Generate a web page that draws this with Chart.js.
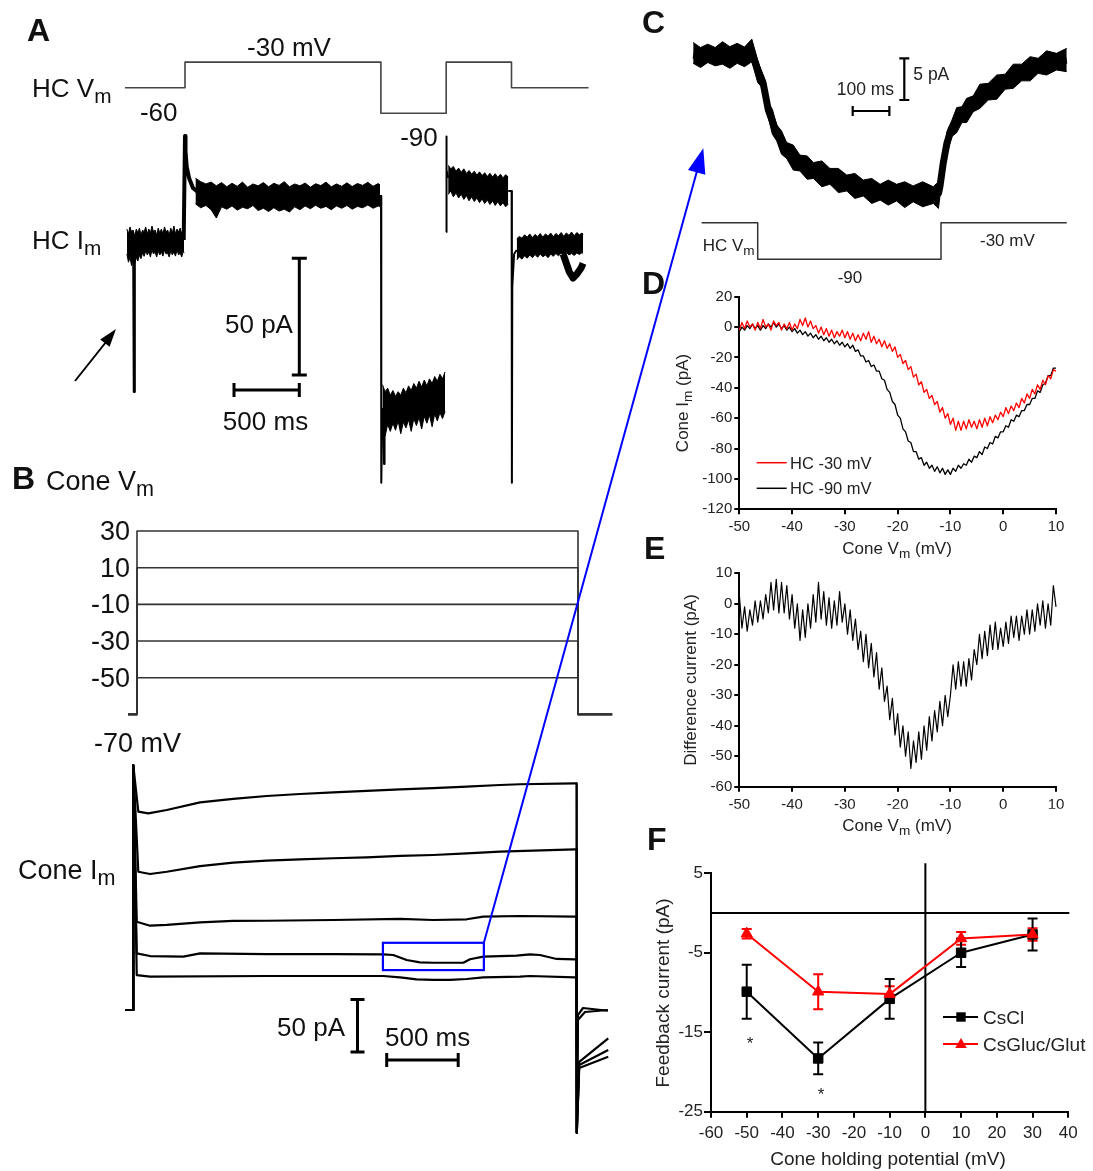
<!DOCTYPE html>
<html><head><meta charset="utf-8"><title>Horizontal cell feedback</title>
<script src="https://cdn.jsdelivr.net/npm/chart.js@4.4.1/dist/chart.umd.min.js"></script>
<style>
html,body{margin:0;padding:0;background:#fff}
body{position:relative;width:1093px;height:1171px;overflow:hidden;font-family:"Liberation Sans",Arial,Helvetica,sans-serif;color:#111}
canvas{position:absolute}
.t{position:absolute;white-space:nowrap;line-height:1;z-index:21}
.t sub{font-size:0.8em;vertical-align:baseline;position:relative;top:0.3em;line-height:0}
#ov{position:absolute;left:0;top:0;width:1093px;height:1171px;pointer-events:none;z-index:20}
</style></head><body>
<svg id="ov" xmlns="http://www.w3.org/2000/svg" width="1093" height="1171"></svg>
<script>
// ---------------- DATA ----------------
// Panel A : HC voltage protocol (ms, mV)
const hcVmT = [40, 500, 500, 2000, 2000, 2500, 2500, 3000, 3000, 3590];
const hcVmV = [-60, -60, -30, -30, -90, -90, -30, -30, -60, -60];
// Panel A : HC current, noisy segments as upper / lower envelopes (ms, pA relative to holding)
const hcHoldT = [55, 67, 79, 91, 103, 115, 127, 139, 151, 163, 175, 187, 199, 211, 223, 235, 247, 259, 271, 283, 295, 307, 319, 331, 343, 355, 367, 379, 391, 403, 415, 427, 439, 451, 463, 475, 487, 493];
const hcHoldHi = [4.7, 2.6, 5.6, 3.4, 4.3, 1.7, 4.7, 3.0, 5.1, 2.1, 4.3, 3.4, 5.6, 2.6, 4.7, 3.0, 6.0, 3.4, 4.3, 2.1, 5.1, 3.0, 4.7, 2.6, 5.6, 3.4, 4.3, 2.1, 5.1, 3.0, 6.0, 2.6, 4.7, 3.4, 5.1, 2.6, 4.3, 3.0];
const hcHoldLo = [-6, -9.5, -7.5, -11, -8.5, -10, -7.5, -9, -6.5, -8, -5.5, -7, -4.7, -6.4, -5.1, -7.3, -4.3, -6, -5.1, -7.3, -4.7, -6.4, -5.1, -6.9, -4.3, -6.0, -5.6, -7.3, -4.7, -6.4, -5.1, -6.9, -4.3, -6.4, -5.6, -7.3, -4.7, -5.6];
const hcP1T = [580, 620, 660, 700, 740, 780, 820, 860, 900, 940, 980, 1020, 1060, 1100, 1140, 1180, 1220, 1260, 1300, 1340, 1380, 1420, 1460, 1500, 1540, 1580, 1620, 1660, 1700, 1740, 1780, 1820, 1860, 1900, 1940, 1980, 1993];
const hcP1Hi = [26.5, 25.0, 24.0, 24.8, 23.2, 24.6, 22.8, 24.3, 23.0, 24.8, 22.6, 24.0, 23.2, 24.6, 22.8, 24.3, 23.4, 25.0, 22.8, 24.0, 23.2, 24.4, 22.6, 24.1, 23.3, 24.8, 22.8, 24.0, 23.0, 24.5, 22.9, 24.2, 23.4, 24.7, 23.0, 24.2, 23.6];
const hcP1Lo = [15.5, 13.8, 14.8, 13.0, 9.4, 14.2, 13.2, 14.6, 12.8, 14.0, 13.4, 14.8, 12.6, 13.6, 12.2, 13.8, 12.4, 13.2, 12.0, 14.2, 13.0, 14.6, 13.4, 14.9, 13.6, 14.4, 13.0, 14.6, 13.6, 14.8, 13.2, 14.4, 13.8, 15.0, 13.6, 14.6, 14.2];
const hcM90T = [2012, 2032, 2052, 2072, 2092, 2112, 2132, 2152, 2172, 2192, 2212, 2232, 2252, 2272, 2292, 2312, 2332, 2352, 2372, 2392, 2412, 2432, 2452, 2472, 2491];
const hcM90Hi = [-62, -65, -63.5, -66.5, -64.5, -67, -65, -66.5, -63.5, -65.5, -62.5, -64.5, -61.5, -63.5, -60.5, -63, -60, -62.5, -59.5, -61.5, -58.5, -60.5, -57.5, -59.5, -56.5];
const hcM90Lo = [-78, -84, -79, -82, -78.5, -81.5, -77.5, -83, -78, -80.5, -77, -82, -76.5, -79.5, -76, -81, -75.5, -78.5, -75, -80, -74.5, -77.5, -74, -76.5, -73.5];
const hcP2T = [2515, 2535, 2555, 2575, 2595, 2615, 2635, 2655, 2675, 2695, 2715, 2735, 2755, 2775, 2795, 2815, 2835, 2855, 2875, 2895, 2915, 2935, 2955, 2975];
const hcP2Hi = [32, 30.5, 31.5, 29.5, 30.8, 29, 30.5, 28.5, 29.8, 28.2, 29.5, 27.8, 29.2, 27.6, 28.8, 27.2, 28.6, 27, 28.4, 26.8, 28.2, 26.6, 28, 27];
const hcP2Lo = [19.5, 21, 18.5, 20.2, 18, 19.6, 17.4, 19, 16.8, 18.5, 16.5, 18, 16, 17.6, 15.6, 17.2, 15.2, 16.8, 14.8, 16.4, 14.6, 16, 14.2, 15.4];
const hcEndT = [3040, 3060, 3080, 3100, 3120, 3140, 3160, 3180, 3200, 3220, 3240, 3260, 3280, 3300, 3320, 3340, 3360, 3380, 3400, 3420, 3440, 3460, 3480, 3500, 3520, 3540, 3548];
const hcEndHi = [0.5, 1.5, 0.8, 2.2, 1.2, 2.6, 1.0, 2.4, 1.4, 2.8, 1.2, 2.6, 1.6, 3.0, 1.4, 2.8, 1.8, 3.2, 1.6, 3.0, 2.0, 3.4, 1.8, 3.2, 2.2, 3.0, 2.4];
const hcEndLo = [-8.6, -7.2, -8.2, -6.8, -7.8, -6.4, -7.6, -6.2, -7.4, -6.0, -7.2, -6.4, -7.6, -6.0, -7.0, -5.8, -6.8, -5.6, -6.6, -5.4, -6.4, -5.8, -6.6, -5.6, -6.2, -5.4, -5.8];
// Panel A : HC current, fast transients (ms, pA)
const hcImSpikeT = [105, 109.5, 114];
const hcImSpikeI = [-3, -65, -4];
const hcImOnT = [490, 500, 504, 513, 531, 561, 600];
const hcImOnI = [0, 44.6, 38, 31.4, 26.6, 22.3, 20.5];
const hcImOffT = [1990, 2001, 2003, 2012];
const hcImOffI = [18.9, 18.9, -104, -72];
const hcImM90SpT = [2020, 2024, 2028];
const hcImM90SpI = [-72, -96, -72];
const hcImUpT = [2500, 2501, 2504, 2515];
const hcImUpI = [3.4, 44.3, 30, 26.6];
const hcImDownT = [2975, 3001, 3003, 3006, 3020, 3040];
const hcImDownI = [21, 21, -104, -20, -6, -4.3];
const hcImBumpT = [3395, 3443, 3471, 3502, 3533, 3548];
const hcImBumpI = [-6, -13.7, -16.3, -14.5, -12, -10];

// Panel B : cone voltage steps (mV) and timing (ms)
const coneVmLevels = [30, 10, -10, -30, -50];
const coneVmHold = -70;
const coneStepT = [-63, 0, 0, 3100, 3100, 3340];
// Panel B : cone currents (ms, pA relative to holding)
const coneIm30T = [-58, -1, 0, 35, 105, 234, 467, 699, 933, 1166, 1399, 1632, 1866, 2098, 2332, 2565, 2705, 3089, 3100, 3102, 3110, 3145, 3320];
const coneIm30I = [0, 0, 233, 188.9, 187.3, 190.5, 197.8, 201, 203.8, 205.7, 207.3, 208.6, 210.2, 211.4, 212.7, 214.3, 215, 215.9, 215.9, -117, -4.8, 1.9, -0.7];
const coneIm10T = [-58, -1, 0, 35, 117, 234, 467, 699, 933, 1166, 1399, 1632, 1866, 2098, 2332, 2565, 3089, 3100, 3102, 3110, 3159, 3320];
const coneIm10I = [0, 0, 233, 131.7, 129.5, 131.7, 137.1, 140.3, 142.2, 143.5, 144.5, 145.4, 146.7, 147.6, 149.2, 150.8, 153, 153, -117, -9.5, -1.9, 0];
const coneImM10T = [-58, -1, 0, 24, 117, 234, 467, 699, 933, 1399, 1866, 2098, 2332, 2448, 2705, 3089, 3100, 3102, 3119, 3322];
const coneImM10I = [0, 0, 233, 84.1, 80.3, 81, 83.5, 84.8, 85, 85.7, 86.7, 85.7, 86.4, 88.9, 89.5, 88.9, 88.9, -117, -49.5, -27];
const coneImM30T = [-58, -1, 0, 24, 117, 350, 467, 933, 1399, 1748, 1818, 1912, 2005, 2098, 2308, 2355, 2448, 2681, 2774, 2844, 2961, 3089, 3100, 3102, 3119, 3322];
const coneImM30I = [0, 0, 233, 54, 51.4, 50.8, 54, 53.3, 53.3, 53, 52.4, 47.6, 45.4, 45, 45, 48.3, 50.8, 51.7, 53, 52.4, 48.6, 48.3, 48.3, -117, -52.4, -38.1];
const coneImM50T = [-58, -1, 0, 24, 117, 933, 1748, 1866, 1982, 2098, 2215, 2332, 2448, 2705, 2774, 3089, 3100, 3102, 3119, 3322];
const coneImM50I = [0, 0, 233, 33.3, 31.7, 32.4, 32.4, 31.1, 29.2, 28.6, 28.6, 29.5, 31.1, 31.7, 32.4, 31.1, 31.1, -117, -55.2, -44.5];
const zoomBoxT = [1746, 2452];
const zoomBoxI = [38, 64];

// Panel C : zoomed cone current (ms, pA): mean line and noise envelopes; HC step (mV)
const cTraceT = [-176, -144, -117, -89, -62, -35, -16, -3, 15, 29, 52, 79, 115, 152, 197, 243, 288, 334, 379, 424, 479, 493, 497, 506, 516, 529, 543, 570, 606, 652, 697, 743, 788, 843];
const cTraceI = [0, -0.24, 0.12, -0.12, 0, 0.12, 0.24, -1.4, -3.4, -6.6, -9.4, -11.4, -13, -13.8, -14.6, -15.3, -16, -16.4, -16.5, -16.6, -16.8, -16.6, -15.8, -13, -10.6, -8.8, -7.8, -6.6, -5, -3.8, -2.6, -1.6, -1, -0.6];
const cEnvT = [-176, -156, -136, -116, -96, -76, -56, -36, -16, 0, 10, 20, 30, 40, 52, 65, 79, 97, 115, 135, 152, 175, 197, 220, 243, 265, 288, 311, 334, 356, 379, 401, 424, 450, 479, 493, 497, 502, 506, 516, 529, 543, 557, 570, 588, 606, 629, 652, 675, 697, 720, 743, 765, 788, 815, 843];
const cEnvHi = [1.5, 0.9, 1.3, 0.9, 1.6, 1.0, 1.4, 0.95, 1.9, -0.6, -1.9, -3.0, -5.8, -6.5, -8.4, -9.1, -10.5, -10.8, -12.0, -12.1, -12.9, -12.7, -13.6, -13.6, -14.4, -14.2, -15.0, -14.8, -15.5, -15.0, -15.5, -15.2, -15.7, -15.2, -15.8, -15.2, -14.8, -13.1, -12.0, -9.2, -7.9, -6.3, -6.2, -5.2, -4.9, -3.5, -3.4, -2.4, -2.3, -1.1, -1.1, -0.2, -0.4, 0.5, 0.2, 0.8];
const cEnvLo = [-1.0, -1.5, -0.9, -1.3, -1.1, -1.6, -1.0, -1.4, -0.8, -3.3, -3.8, -5.8, -7.7, -9.5, -10.3, -11.9, -12.4, -13.8, -13.9, -14.9, -14.8, -15.8, -15.5, -16.5, -16.3, -17.2, -16.9, -17.8, -17.4, -18.0, -17.5, -18.3, -17.6, -18.2, -17.8, -18.4, -17.0, -15.8, -14.0, -12.0, -9.8, -9.3, -8.1, -8.1, -6.8, -6.4, -5.4, -5.3, -4.1, -4.0, -3.1, -3.1, -2.2, -2.4, -1.8, -2.0];
const cVmT = [-153, 0, 0, 500, 500, 843];
const cVmV = [-30, -30, -90, -90, -30, -30];

// Panels D/E : cone voltage ramp (mV)
const ivV = [-50,-49.5,-49,-48.5,-48,-47.5,-47,-46.5,-46,-45.5,
 -45,-44.5,-44,-43.5,-43,-42.5,-42,-41.5,-41,-40.5,
 -40,-39.5,-39,-38.5,-38,-37.5,-37,-36.5,-36,-35.5,
 -35,-34.5,-34,-33.5,-33,-32.5,-32,-31.5,-31,-30.5,
 -30,-29.5,-29,-28.5,-28,-27.5,-27,-26.5,-26,-25.5,
 -25,-24.5,-24,-23.5,-23,-22.5,-22,-21.5,-21,-20.5,
 -20,-19.5,-19,-18.5,-18,-17.5,-17,-16.5,-16,-15.5,
 -15,-14.5,-14,-13.5,-13,-12.5,-12,-11.5,-11,-10.5,
 -10,-9.5,-9,-8.5,-8,-7.5,-7,-6.5,-6,-5.5,
 -5,-4.5,-4,-3.5,-3,-2.5,-2,-1.5,-1,-0.5,
 0,0.5,1,1.5,2,2.5,3,3.5,4,4.5,
 5,5.5,6,6.5,7,7.5,8,8.5,9,9.5,
 10];
const ivHC30 = [-2,3,-1,4,0,2,-2,3,-1,5,
 0,2,-2,4,1,3,-2,2,-1,3,
 -2,2,-1,5,1,6,0,4,-1,1,
 -4,0,-5,-1,-6,-2,-7,-3,-6,-2,
 -7,-3,-8,-4,-9,-5,-9,-4,-8,-3,
 -10,-6,-11,-8,-13,-9,-14,-11,-16,-13,
 -20,-18,-24,-22,-28,-26,-33,-31,-38,-36,
 -43,-41,-47,-45,-51,-49,-56,-53,-60,-57,
 -64,-60,-68,-62,-68,-62,-67,-61,-66,-62,
 -67,-61,-66,-60,-65,-59,-63,-58,-61,-56,
 -59,-53,-57,-52,-55,-50,-53,-47,-50,-44,
 -47,-41,-44,-38,-41,-35,-38,-32,-34,-28,
 -29];
const ivHC90 = [-3,0,-2,1,-1,2,-1,1,-2,1,
 -1,2,0,3,0,2,-1,1,-2,0,
 -3,-1,-4,-2,-5,-3,-6,-4,-7,-5,
 -8,-6,-9,-7,-10,-8,-11,-9,-12,-10,
 -13,-11,-14,-12,-16,-15,-19,-19,-23,-22,
 -26,-25,-29,-29,-34,-35,-41,-43,-49,-51,
 -58,-60,-67,-69,-75,-76,-82,-82,-87,-86,
 -91,-89,-93,-91,-95,-92,-96,-93,-97,-94,
 -97,-93,-95,-91,-93,-90,-91,-87,-89,-85,
 -86,-82,-84,-79,-80,-76,-77,-72,-73,-69,
 -69,-65,-66,-61,-62,-58,-59,-55,-55,-51,
 -51,-47,-47,-42,-43,-38,-37,-32,-32,-27,
 -27];
const ivDiff = [3,-8,-1,-9,-2,-7,1,-6,1,-5,
 3,-3,7,-2,8,-3,7,-3,6,-5,
 3,-8,0,-12,-2,-11,0,-8,3,-6,
 7,-5,4,-7,2,-8,1,-7,4,-6,
 0,-10,-2,-12,-5,-15,-9,-19,-10,-21,
 -13,-24,-16,-28,-21,-32,-27,-38,-31,-43,
 -36,-47,-40,-50,-42,-54,-45,-52,-42,-51,
 -40,-48,-37,-45,-35,-42,-32,-40,-30,-37,
 -30,-20,-28,-19,-27,-19,-27,-18,-25,-15,
 -20,-10,-18,-9,-17,-7,-15,-6,-15,-8,
 -14,-6,-13,-4,-11,-4,-12,-4,-10,-2,
 -10,-2,-9,0,-7,1,-8,0,-7,6,
 -1];
const dTicksX = {min:-50, max:10, step:10};
const dTicksY = {min:-120, max:20, step:20};
const eTicksY = {min:-60, max:10, step:10};

// Panel F : feedback current vs cone holding potential
const fVolt = [-50, -30, -10, 10, 30];
const fCsCl = [-9.9, -18.3, -10.8, -5.0, -2.7];
const fCsClErr = [3.4, 2.0, 2.5, 1.8, 2.0];
const fGlut = [-2.6, -9.9, -10.2, -3.2, -2.7];
const fGlutErr = [0.6, 2.2, 1.0, 0.8, 0.8];
const fStars = [[-49.1, -15.8], [-29.2, -22.3]];
const fTicksX = {min:-60, max:40, step:10};
const fTicksY = {min:-25, max:5, step:10};

// ---------------- HELPERS ----------------
const FONT = '"Liberation Sans", Arial, Helvetica, sans-serif';
Chart.defaults.font.family = FONT;
const pts = (xs, ys) => xs.map((x, i) => ({x, y: ys[i]}));
function span(v1, p1, v2, p2, pa, pb) { const k = (v2 - v1) / (p2 - p1); return {min: v1 + (pa - p1) * k, max: v1 + (pb - p1) * k}; }
const hid = r => ({type: 'linear', display: false, min: r.min, max: r.max});
function ln(xs, ys, color, w, yAxisID, extra) {
  return Object.assign({data: pts(xs, ys), borderColor: color, backgroundColor: color, borderWidth: w, pointRadius: 0,
    tension: 0, fill: false, yAxisID: yAxisID || 'y', borderJoinStyle: 'round', borderCapStyle: 'butt', clip: false}, extra || {});
}
function band(T, hi, lo, yAxisID) {
  return [ln(T, hi, '#000', 1, yAxisID), ln(T, lo, '#000', 1, yAxisID, {fill: '-1', backgroundColor: '#000'})];
}
function mk(box, datasets, scales, plugins, padding) {
  const c = document.createElement('canvas');
  c.width = box.w; c.height = box.h;
  c.style.left = box.l + 'px'; c.style.top = box.t + 'px';
  c.style.width = box.w + 'px'; c.style.height = box.h + 'px';
  document.body.appendChild(c);
  return new Chart(c, {type: 'line', data: {datasets},
    options: {responsive: false, maintainAspectRatio: false, animation: false, events: [], devicePixelRatio: 1,
      layout: {padding: padding || 0}, plugins: {legend: {display: false}, tooltip: {enabled: false}}, scales},
    plugins: plugins || []});
}
function axis(t, o) {
  return {type: 'linear', min: t.min, max: t.max,
    ticks: {stepSize: t.step, color: '#222', font: {size: o.fs, family: FONT}, padding: o.pad, autoSkip: false, maxRotation: 0, minRotation: 0},
    grid: {display: true, drawOnChartArea: false, drawTicks: true, tickLength: o.tl, color: '#000', lineWidth: 2, tickColor: '#000', tickWidth: 2},
    border: {display: true, color: '#000', width: 2},
    afterFit: s => { if (o.w != null) s.width = o.w; if (o.h != null) s.height = o.h; }};
}
function bars(box, cfg) {
  return {id: 'scaleBars', afterDraw(ch) {
    const c = ch.ctx; c.save(); c.strokeStyle = '#000'; c.lineWidth = cfg.lw; c.lineCap = 'butt';
    if (cfg.v) { const s = ch.scales[cfg.v.axis]; const len = Math.abs(s.getPixelForValue(cfg.v.value) - s.getPixelForValue(0));
      const x = cfg.v.x - box.l, yb = cfg.v.y - box.t, h = cfg.v.cap / 2;
      c.beginPath(); c.moveTo(x, yb); c.lineTo(x, yb - len);
      c.moveTo(x - h, yb); c.lineTo(x + h, yb); c.moveTo(x - h, yb - len); c.lineTo(x + h, yb - len); c.stroke(); }
    if (cfg.h) { const s = ch.scales.x; const len = Math.abs(s.getPixelForValue(cfg.h.value) - s.getPixelForValue(0));
      const x = cfg.h.x - box.l, y = cfg.h.y - box.t, h = cfg.h.cap / 2;
      c.beginPath(); c.moveTo(x, y); c.lineTo(x + len, y);
      c.moveTo(x, y - h); c.lineTo(x, y + h); c.moveTo(x + len, y - h); c.lineTo(x + len, y + h); c.stroke(); }
    c.restore(); }};
}
function label(html, x, y, size, o) {
  o = o || {};
  const d = document.createElement('div'); d.className = 't'; d.innerHTML = html;
  d.style.fontSize = size + 'px'; d.style.left = x + 'px'; d.style.top = y + 'px';
  if (o.bold) d.style.fontWeight = 'bold';
  d.style.color = o.color || '#111';
  if (o.rot) d.style.transform = 'translate(-50%,-50%) rotate(-90deg)';
  else d.style.transform = 'translate(' + (o.align === 'c' ? '-50%' : o.align === 'r' ? '-100%' : '0') + ',-50%)';
  document.body.appendChild(d);
}

// ---------------- PANEL A ----------------
const boxA = {l: 107, t: 40, w: 496, h: 450};
mk(boxA, [
  ln(hcVmT, hcVmV, '#444', 1.6, 'yV'),
  ...band(hcHoldT, hcHoldHi, hcHoldLo, 'yI'),
  ln(hcImSpikeT, hcImSpikeI, '#000', 2.5, 'yI'),
  ln(hcImOnT, hcImOnI, '#000', 4, 'yI'),
  ...band(hcP1T, hcP1Hi, hcP1Lo, 'yI'),
  ln(hcImOffT, hcImOffI, '#000', 2, 'yI'),
  ...band(hcM90T, hcM90Hi, hcM90Lo, 'yI'),
  ln(hcImM90SpT, hcImM90SpI, '#000', 2, 'yI'),
  ln(hcImUpT, hcImUpI, '#000', 2, 'yI'),
  ...band(hcP2T, hcP2Hi, hcP2Lo, 'yI'),
  ln(hcImDownT, hcImDownI, '#000', 2, 'yI'),
  ...band(hcEndT, hcEndHi, hcEndLo, 'yI'),
  ln(hcImBumpT, hcImBumpI, '#000', 7, 'yI')
], {
  x: hid(span(500, 185, 3000, 511.5, boxA.l, boxA.l + boxA.w)),
  yI: hid(span(0, 240, 50, 123.3, boxA.t + boxA.h, boxA.t)),
  yV: hid(span(-60, 87.7, -90, 113.3, boxA.t + boxA.h, boxA.t))
}, [bars(boxA, {lw: 3, v: {axis: 'yI', value: 50, x: 299.3, y: 375, cap: 15}, h: {value: 500, x: 234, y: 390, cap: 14}})]);

// ---------------- PANEL B (Vm) ----------------
const boxBV = {l: 100, t: 515, w: 525, h: 215};
const chBV = mk(boxBV, coneVmLevels.map(L =>
  ln(coneStepT, [coneVmHold, coneVmHold, L, L, coneVmHold, coneVmHold], '#333', 1.6, 'y')), {
  x: hid(span(0, 137, 3100, 578, boxBV.l, boxBV.l + boxBV.w)),
  y: hid(span(30, 531, -50, 677.7, boxBV.t + boxBV.h, boxBV.t))
});
coneVmLevels.forEach(L => label(String(L), 130, boxBV.t + chBV.scales.y.getPixelForValue(L), 27, {align: 'r'}));

// ---------------- PANEL B (Im) ----------------
const boxBI = {l: 100, t: 755, w: 525, h: 390};
const blueBox = {id: 'blueBox', afterDatasetsDraw(ch) {
  const {ctx, scales: {x, y}} = ch;
  const x1 = x.getPixelForValue(zoomBoxT[0]), x2 = x.getPixelForValue(zoomBoxT[1]);
  const y1 = y.getPixelForValue(zoomBoxI[1]), y2 = y.getPixelForValue(zoomBoxI[0]);
  ctx.save(); ctx.strokeStyle = '#0000ff'; ctx.lineWidth = 2.2; ctx.strokeRect(x1, y1, x2 - x1, y2 - y1); ctx.restore(); }};
const chBI = mk(boxBI, [
  ln(coneIm30T, coneIm30I, '#000', 2.2, 'y'),
  ln(coneIm10T, coneIm10I, '#000', 2.2, 'y'),
  ln(coneImM10T, coneImM10I, '#000', 2.2, 'y'),
  ln(coneImM30T, coneImM30I, '#000', 2.2, 'y'),
  ln(coneImM50T, coneImM50I, '#000', 2.2, 'y')
], {
  x: hid(span(0, 133.3, 3100, 576.5, boxBI.l, boxBI.l + boxBI.w)),
  y: hid(span(0, 1010, 50, 957.5, boxBI.t + boxBI.h, boxBI.t))
}, [blueBox, bars(boxBI, {lw: 3, v: {axis: 'y', value: 50, x: 357.5, y: 1052, cap: 14}, h: {value: 500, x: 386.7, y: 1060, cap: 14}})]);

// ---------------- PANEL C ----------------
const boxC = {l: 685, t: 25, w: 395, h: 252};
mk(boxC, [
  ...band(cEnvT, cEnvHi, cEnvLo, 'yI'),
  ln(cTraceT, cTraceI, '#000', 7, 'yI'),
  ln(cVmT, cVmV, '#333', 1.5, 'yV')
], {
  x: hid(span(0, 757.7, 500, 941, boxC.l, boxC.l + boxC.w)),
  yI: hid(span(0, 55, 5, 13.3, boxC.t + boxC.h, boxC.t)),
  yV: hid(span(-30, 222.7, -90, 259.3, boxC.t + boxC.h, boxC.t))
}, [bars(boxC, {lw: 2.2, v: {axis: 'yI', value: 5, x: 904.3, y: 100, cap: 10}, h: {value: 100, x: 852.7, y: 111, cap: 10}})]);

// ---------------- PANEL D ----------------
const boxD = {l: 680, t: 280, w: 400, h: 260};
mk(boxD, [
  ln(ivV, ivHC30, '#ff0000', 1.3, 'y'),
  ln(ivV, ivHC90, '#000', 1.3, 'y')
], {
  x: axis(dTicksX, {fs: 15, pad: 4, tl: 5, h: 22}),
  y: axis(dTicksY, {fs: 15, pad: 2, tl: 5, w: 59.3})
}, [], {left: 0, top: 16.7, right: 24, bottom: 8.7});

// ---------------- PANEL E ----------------
const boxE = {l: 680, t: 555, w: 400, h: 260};
mk(boxE, [
  ln(ivV, ivDiff, '#000', 1.2, 'y')
], {
  x: axis(dTicksX, {fs: 15, pad: 4, tl: 5, h: 22}),
  y: axis(eTicksY, {fs: 15, pad: 2, tl: 5, w: 59.3})
}, [], {left: 0, top: 18.3, right: 24, bottom: 6.3});

// ---------------- PANEL F ----------------
const boxF = {l: 640, t: 850, w: 450, h: 300};
const zeroLines = {id: 'zeroLines', beforeDatasetsDraw(ch) {
  const {ctx, chartArea: a, scales: {x, y}} = ch;
  const y0 = y.getPixelForValue(0), x0 = x.getPixelForValue(0);
  ctx.save(); ctx.strokeStyle = '#000'; ctx.lineWidth = 2; ctx.beginPath();
  ctx.moveTo(a.left, y0); ctx.lineTo(a.right + 1, y0); ctx.moveTo(x0, a.top - 10); ctx.lineTo(x0, a.bottom); ctx.stroke(); ctx.restore(); }};
const errBars = {id: 'errBars', beforeDatasetsDraw(ch) {
  const {ctx, scales: {y}} = ch;
  ch.data.datasets.forEach((d, di) => {
    const m = ch.getDatasetMeta(di);
    ctx.save(); ctx.strokeStyle = d.borderColor; ctx.lineWidth = 2;
    m.data.forEach((p, i) => {
      const v = d.data[i].y, e = d.errors[i];
      const yt = y.getPixelForValue(v + e), yb = y.getPixelForValue(v - e);
      ctx.beginPath(); ctx.moveTo(p.x, yt); ctx.lineTo(p.x, yb);
      ctx.moveTo(p.x - 5, yt); ctx.lineTo(p.x + 5, yt); ctx.moveTo(p.x - 5, yb); ctx.lineTo(p.x + 5, yb); ctx.stroke();
    });
    ctx.restore();
  }); }};
const chF = mk(boxF, [
  ln(fVolt, fGlut, '#ff0000', 2, 'y', {errors: fGlutErr, pointStyle: 'triangle', pointRadius: 6.5, pointBorderWidth: 1, clip: false}),
  ln(fVolt, fCsCl, '#000', 2, 'y', {errors: fCsClErr, pointStyle: 'rect', pointRadius: 6.7, pointBorderWidth: 1, clip: false})
], {
  x: axis(fTicksX, {fs: 17, pad: 5, tl: 6, h: 28}),
  y: axis(fTicksY, {fs: 17, pad: 1, tl: 7, w: 71})
}, [zeroLines, errBars], {left: 0, top: 23.3, right: 21.7, bottom: 10.3});
fStars.forEach(s => label('*', boxF.l + chF.scales.x.getPixelForValue(s[0]), boxF.t + chF.scales.y.getPixelForValue(s[1]) + 4, 17, {align: 'c', color: '#222'}));

// ---------------- TEXT ----------------
// A
label('A', 27, 30, 32, {bold: true});
label('-30 mV', 289, 47, 26, {align: 'c'});
label('HC V<sub>m</sub>', 32, 88, 26);
label('-60', 158.7, 112, 26, {align: 'c'});
label('-90', 419, 136.7, 26, {align: 'c'});
label('HC I<sub>m</sub>', 32, 240, 26);
label('50 pA', 225, 324, 26);
label('500 ms', 265.5, 421, 26, {align: 'c'});
// B
label('B', 12, 478, 32, {bold: true});
label('Cone V<sub>m</sub>', 46, 481, 27);
label('-70 mV', 94, 743, 27);
label('Cone I<sub>m</sub>', 18, 870, 27);
label('50 pA', 345, 1027, 26, {align: 'r'});
label('500 ms', 385, 1037, 26);
// C
label('C', 642, 22, 32, {bold: true});
label('5 pA', 913.3, 75, 17.5, {color: '#222'});
label('100 ms', 836.7, 90, 17.5, {color: '#222'});
label('HC V<sub>m</sub>', 702.7, 245, 17, {color: '#222'});
label('-30 mV', 980, 240, 17, {color: '#222'});
label('-90', 850, 276.7, 17, {align: 'c', color: '#222'});
// D
label('D', 642, 283, 32, {bold: true});
label('Cone I<sub>m</sub> (pA)', 681.7, 403, 17, {rot: true, color: '#222'});
label('Cone V<sub>m</sub> (mV)', 897, 548, 17, {align: 'c', color: '#222'});
label('HC -30 mV', 790, 462.7, 16.5, {color: '#222'});
label('HC -90 mV', 790, 488.3, 16.5, {color: '#222'});
// E
label('E', 644, 548, 32, {bold: true});
label('Difference current (pA)', 690, 680, 17, {rot: true, color: '#222'});
label('Cone V<sub>m</sub> (mV)', 897, 825, 17, {align: 'c', color: '#222'});
// F
label('F', 647, 839, 32, {bold: true});
label('Feedback current (pA)', 661.7, 993, 19, {rot: true, color: '#222'});
label('Cone holding potential (mV)', 888, 1158, 19, {align: 'c', color: '#222'});
label('CsCl', 983, 1017, 19, {color: '#222'});
label('CsGluc/Glut', 983, 1044, 19, {color: '#222'});

// ---------------- OVERLAY (arrows, legend keys) ----------------
const bx = boxBI.l + chBI.scales.x.getPixelForValue(zoomBoxT[1]);
const by = boxBI.t + chBI.scales.y.getPixelForValue(zoomBoxI[1]);
let svg = '';
svg += '<line x1="75" y1="381" x2="108" y2="339.5" stroke="#000" stroke-width="2"/>';
svg += '<polygon points="116,329 109.6,346.8 100.2,339.4" fill="#000"/>';
svg += '<line x1="' + bx + '" y1="' + by + '" x2="697" y2="171" stroke="#0000ff" stroke-width="2"/>';
svg += '<polygon points="703.3,148.3 705.3,174.8 688,170" fill="#0000ff"/>';
svg += '<line x1="756.7" y1="462.7" x2="786.7" y2="462.7" stroke="#ff0000" stroke-width="1.5"/>';
svg += '<line x1="756.7" y1="488.3" x2="786.7" y2="488.3" stroke="#000" stroke-width="1.5"/>';
svg += '<line x1="943" y1="1017" x2="978" y2="1017" stroke="#000" stroke-width="2"/><rect x="956.3" y="1012.3" width="9.4" height="9.4" fill="#000"/>';
svg += '<line x1="943" y1="1044" x2="978" y2="1044" stroke="#ff0000" stroke-width="2"/><polygon points="961,1038 966.8,1048 955.2,1048" fill="#ff0000"/>';
document.getElementById('ov').innerHTML = svg;
</script></body></html>
